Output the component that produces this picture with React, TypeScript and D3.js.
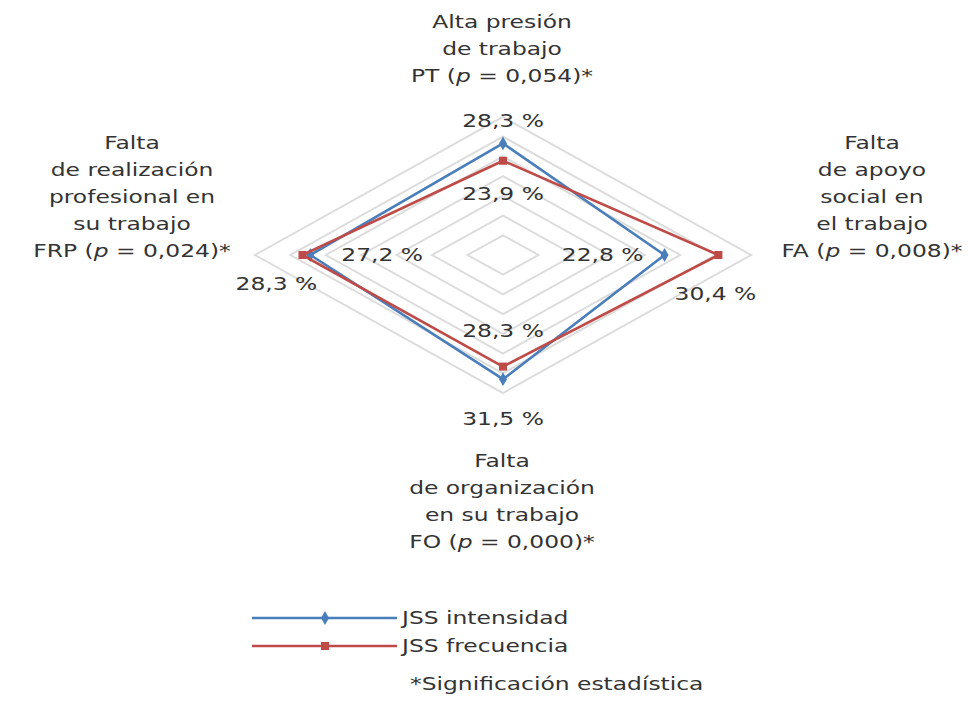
import * as d3 from "d3"
import React from "react"

// axes clockwise from the top
const categories = ["PT", "FA", "FO", "FRP"]
const categoryLines = [
  ["Alta presión", "de trabajo", "PT (p = 0,054)*"],
  ["Falta", "de apoyo", "social en", "el trabajo", "FA (p = 0,008)*"],
  ["Falta", "de organización", "en su trabajo", "FO (p = 0,000)*"],
  ["Falta", "de realización", "profesional en", "su trabajo", "FRP (p = 0,024)*"],
]
const intensidad = [28.3, 22.8, 31.5, 27.2]
const frecuencia = [23.9, 30.4, 28.3, 28.3]
const gridTicks = [5, 10, 15, 20, 25, 30, 35]
const seriesNames = ["JSS intensidad", "JSS frecuencia"]
const footnote = "*Significación estadística"

const width = 972
const height = 705
const cx = 503
const cy = 255
const BLUE = "#4a7ebb"
const RED = "#be4b48"
const FONT = "'DejaVu Sans', Verdana, sans-serif"
const FS = 18
const SX = 1.3

// chart is stretched horizontally, so one scale per direction
const rx = d3.scaleLinear().domain([0, 35]).range([0, 248])
const ry = d3.scaleLinear().domain([0, 35]).range([0, 138])

const point = (i: number, v: number): [number, number] => {
  if (i === 0) return [cx, cy - ry(v)]
  if (i === 1) return [cx + rx(v), cy]
  if (i === 2) return [cx, cy + ry(v)]
  return [cx - rx(v), cy]
}

const poly = d3.line().curve(d3.curveLinearClosed)

// label offsets from the marker: [dx, dy, anchor]
const intLabelPos: [number, number, string][] = [
  [0, -16, "middle"], [-21, 6, "end"], [0, 46, "middle"], [31, 6, "start"],
]
const freLabelPos: [number, number, string][] = [
  [0, 39, "middle"], [-3, 45, "middle"], [0, -30, "middle"], [-26, 35, "middle"],
]

// where each category block sits: [x, first baseline]
const catPos: [number, number][] = [[502, 28], [872, 149], [502, 467], [132, 149]]
const lineGap = 27

const Txt = ({ x, y, anchor = "middle", children, fill = "#333333" }: any) => (
  <text
    transform={`translate(${x},${y}) scale(${SX},1)`}
    textAnchor={anchor}
    fontFamily={FONT}
    fontSize={FS}
    fill={fill}
  >
    {children}
  </text>
)

const withItalicP = (s: string) => {
  const k = s.indexOf("(p")
  if (k < 0) return s
  return (
    <>
      {s.slice(0, k + 1)}
      <tspan fontStyle="italic">p</tspan>
      {s.slice(k + 2)}
    </>
  )
}

const Marker = ({ x, y, kind }: any) =>
  kind === "diamond" ? (
    <path d={d3.symbol(d3.symbolDiamond, 55)() as string} transform={`translate(${x},${y})`} fill={BLUE} />
  ) : (
    <rect x={x - 4} y={y - 4} width={8} height={8} fill={RED} />
  )

export default function App() {
  const series = [
    { values: intensidad, color: BLUE, kind: "diamond", pos: intLabelPos },
    { values: frecuencia, color: RED, kind: "square", pos: freLabelPos },
  ]
  return (
    <svg width={width} height={height} style={{ position: "absolute", left: 0, top: 0, background: "#fff" }}>
      <g fill="none" stroke="#dcdcdc" strokeWidth={2}>
        {gridTicks.map((t) => (
          <path key={t} d={poly(categories.map((_, i) => point(i, t))) as string} />
        ))}
      </g>

      {series.map((s, si) => (
        <g key={si}>
          <path
            d={poly(s.values.map((v, i) => point(i, v))) as string}
            fill="none"
            stroke={s.color}
            strokeWidth={2.6}
            strokeLinejoin="round"
          />
          {s.values.map((v, i) => {
            const [x, y] = point(i, v)
            return <Marker key={i} x={x} y={y} kind={s.kind} />
          })}
        </g>
      ))}

      {series.map((s, si) =>
        s.values.map((v, i) => {
          const [x, y] = point(i, v)
          const [dx, dy, anchor] = s.pos[i]
          return (
            <Txt key={`${si}-${i}`} x={x + dx} y={y + dy} anchor={anchor}>
              {`${d3.format(".1f")(v).replace(".", ",")} %`}
            </Txt>
          )
        })
      )}

      {categoryLines.map((lines, ci) =>
        lines.map((ln, li) => (
          <Txt key={`${ci}-${li}`} x={catPos[ci][0]} y={catPos[ci][1] + li * lineGap}>
            {withItalicP(ln)}
          </Txt>
        ))
      )}

      {/* legend */}
      {series.map((s, si) => {
        const ly = 618 + si * 28
        return (
          <g key={si}>
            <line x1={252} x2={397} y1={ly} y2={ly} stroke={s.color} strokeWidth={2.6} />
            <Marker x={325} y={ly} kind={s.kind} />
            <Txt x={402} y={ly + 6} anchor="start">{seriesNames[si]}</Txt>
          </g>
        )
      })}
      <Txt x={410} y={690} anchor="start">{footnote}</Txt>
    </svg>
  )
}
